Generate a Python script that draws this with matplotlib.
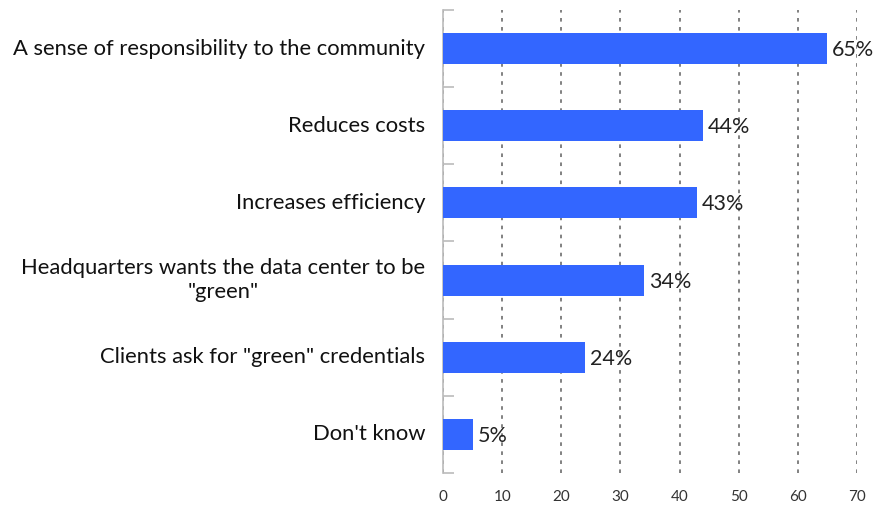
import matplotlib.pyplot as plt
import matplotlib.transforms as mtransforms
import numpy as np

plt.rcParams['font.family'] = ['Lato', 'DejaVu Sans']

categories = ["A sense of responsibility to the community",
              "Reduces costs",
              "Increases efficiency",
              "Headquarters wants the data center to be\n\"green\"",
              "Clients ask for \"green\" credentials",
              "Don't know"]
values = [65, 44, 43, 34, 24, 5]
xticks = [0, 10, 20, 30, 40, 50, 60, 70]

fig = plt.figure(figsize=(8.74, 5.05), dpi=100)
ax = fig.add_axes([0.507, 0.0634, 0.4735, 0.9168])

y = np.arange(len(values))
ax.barh(y, values, height=0.4, color='#3366FF', zorder=3)

for yi, v in zip(y, values):
    ax.text(v + 0.8, yi + 0.02, f"{v}%", va='center', ha='left', fontsize=15.5,
            color='#222222', zorder=4)

ax.set_xlim(0, 70)
ax.set_ylim(len(values) - 0.5, -0.5)
ax.set_xticks(xticks)
ax.tick_params(axis='x', length=0, pad=12, labelsize=11, colors='#333333')

# category labels, drawn as text so the wrapped one stays centred
ax.set_yticks(y)
ax.set_yticklabels([])
ax.tick_params(axis='y', which='major', length=0)
trans = mtransforms.blended_transform_factory(ax.transAxes, ax.transData)
trans = trans + mtransforms.ScaledTranslation(-18 / 100, 0, fig.dpi_scale_trans)
for yi, c in zip(y, categories):
    ax.text(0, yi, c, transform=trans, ha='right', va='center', ma='center',
            fontsize=15.8, color='#111111', linespacing=1.3)

ax.set_yticks(np.arange(len(values) + 1) - 0.5, minor=True)
ax.tick_params(axis='y', which='minor', direction='in', length=8, color='#bbbbbb', width=1.2)

ax.xaxis.grid(True, linestyle=(0, (2, 3)), color='#777777', linewidth=1.3, zorder=0)
for s in ['top', 'right', 'bottom']:
    ax.spines[s].set_visible(False)
ax.spines['left'].set_color('#bbbbbb')
ax.spines['left'].set_linewidth(1.2)

fig.savefig("out.png", dpi=100)
